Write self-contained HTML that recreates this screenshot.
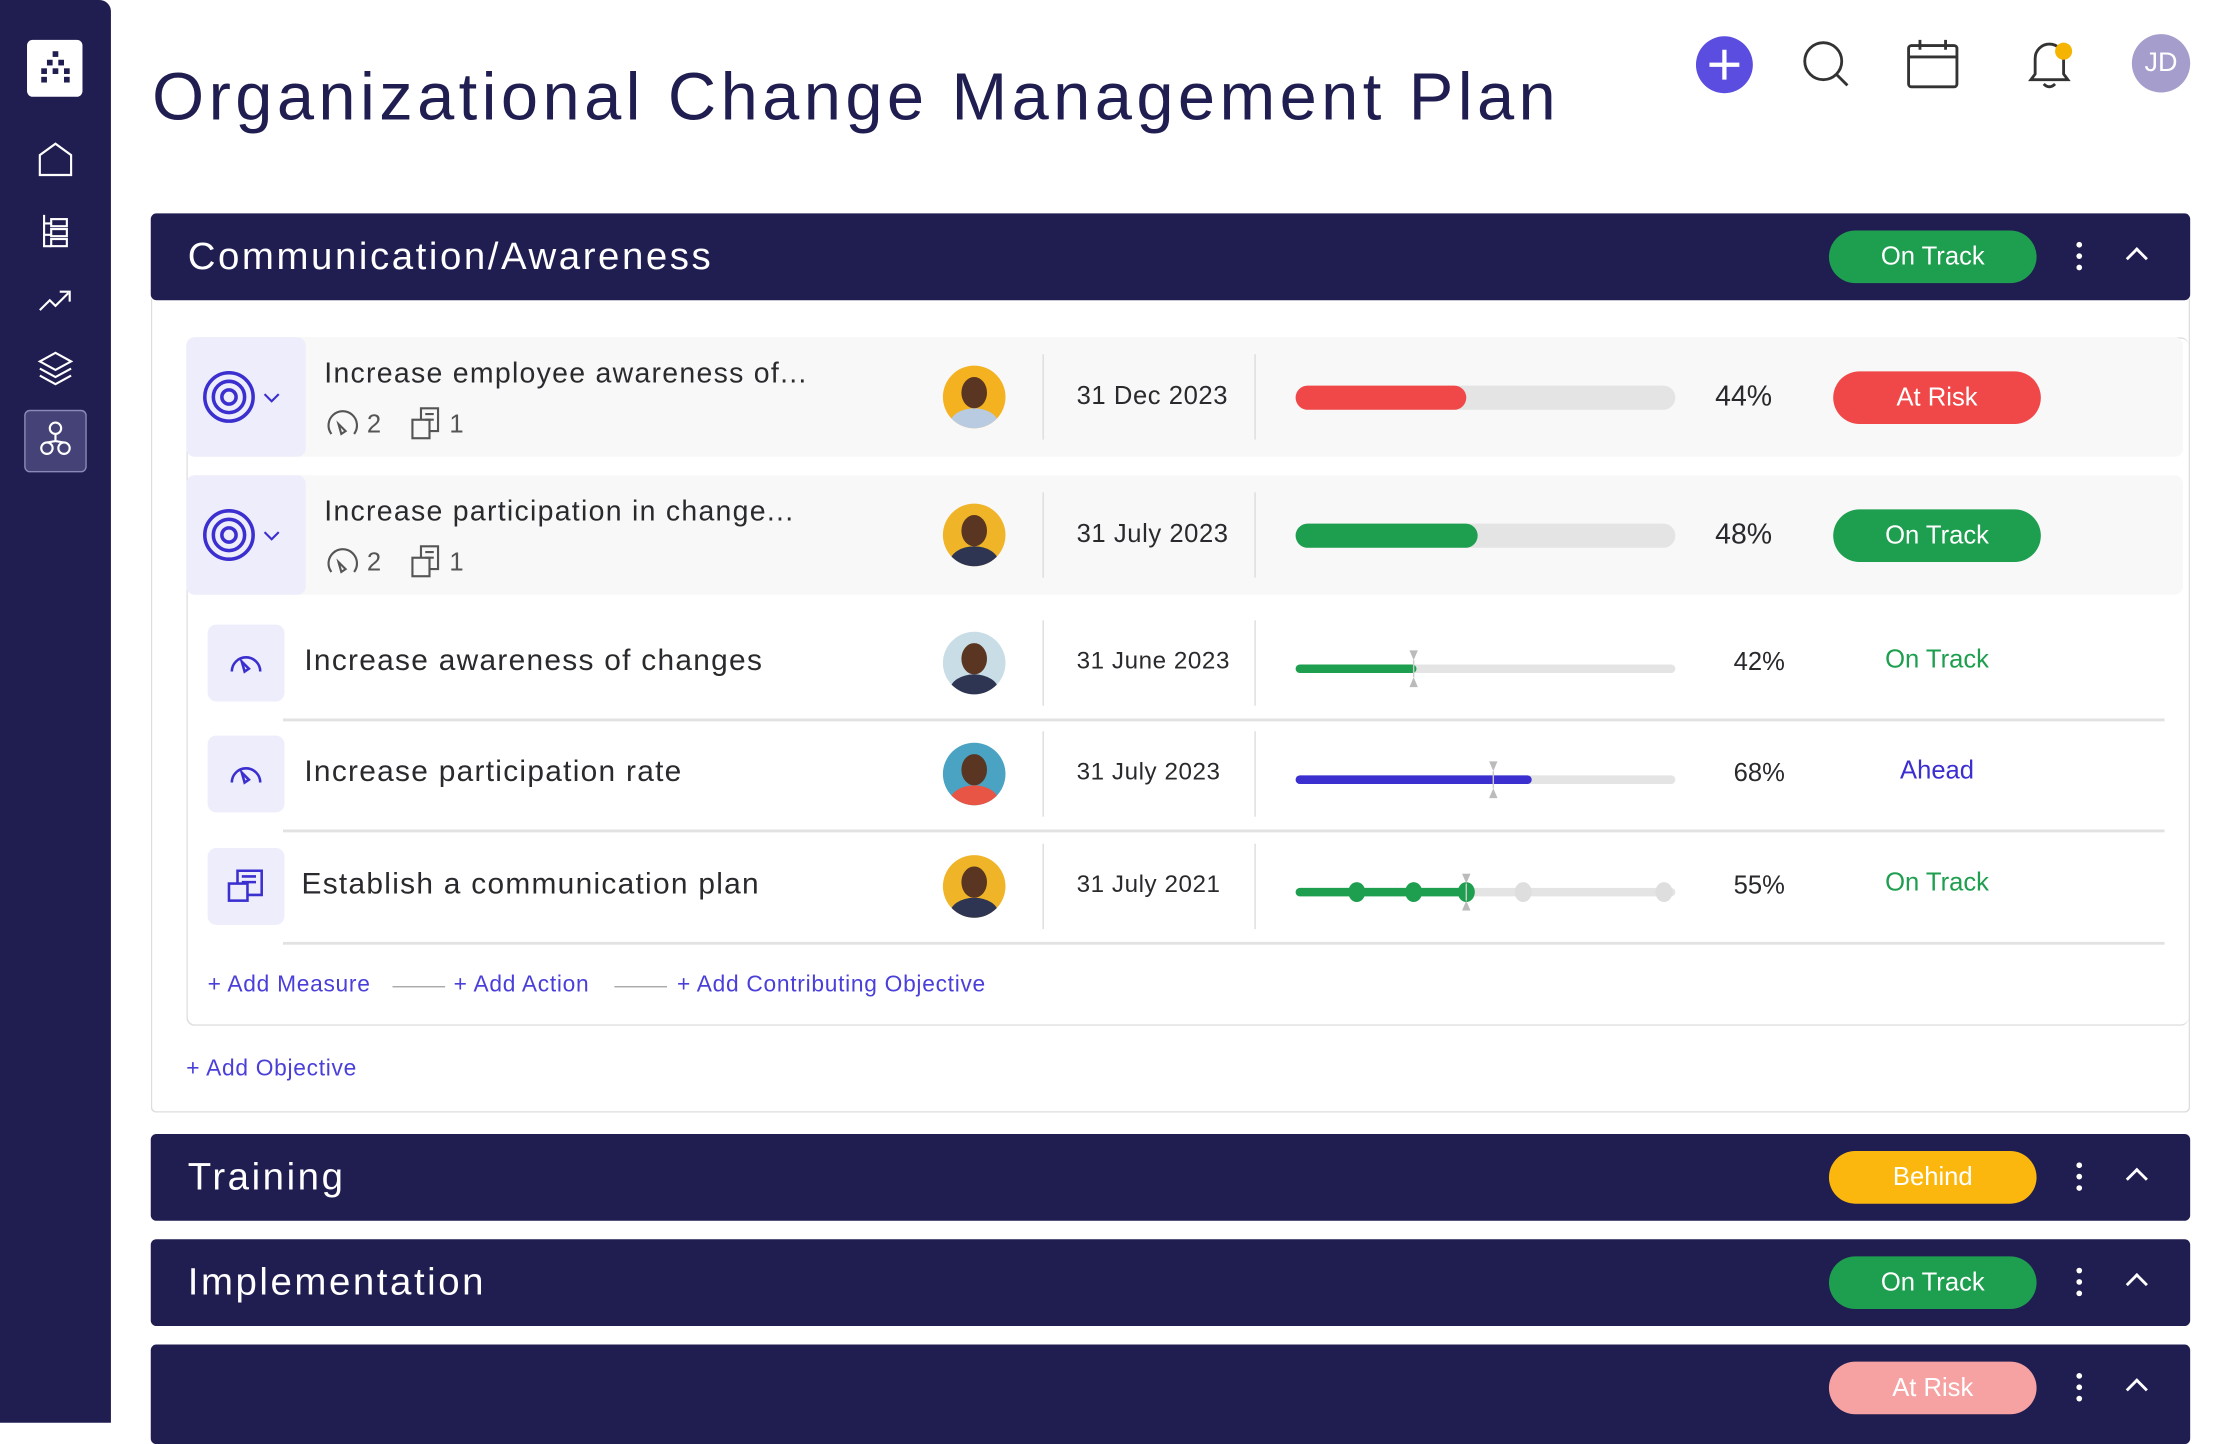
<!DOCTYPE html>
<html><head><meta charset="utf-8"><style>
html,body{margin:0;padding:0;width:2230px;height:1400px;overflow:hidden;background:#fff}
#root{position:absolute;left:0;top:0;width:1568px;height:984px;transform:scale(1.42219,1.4228);transform-origin:0 0;font-family:"Liberation Sans",sans-serif}
.abs{position:absolute}
.hdr{position:absolute;left:106px;width:1434px;height:61px;background:#201d50;border-radius:4px;color:#fff}
.hdr .t{position:absolute;left:26px;top:15px;font-size:27px;letter-spacing:1.8px}
.pill{position:absolute;left:1180px;top:12px;width:146px;height:37px;border-radius:19px;color:#fff;font-size:18px;text-align:center;line-height:37px}
.kebab{position:absolute;left:1354px;top:20px;width:4px}
.kebab i{display:block;width:4px;height:4px;border-radius:2px;background:#fff;margin-bottom:4px}
.chev{position:absolute;left:1391px;top:26px;width:9px;height:9px;border-left:2px solid #fff;border-top:2px solid #fff;transform:rotate(45deg)}
.link{position:absolute;color:#4a3fd8;font-size:16px;letter-spacing:0.5px}
</style></head><body><div id="root">
<div class="abs" style="left:0;top:0;width:78px;height:1000px;background:#201d50;border-radius:0 8px 0 0">
 <div class="abs" style="left:19px;top:28px;width:39px;height:40px;background:#fff;border-radius:4px">
  <svg width="39" height="40"><g fill="#201d50"><rect x="18" y="8" width="4" height="4"/><rect x="14" y="14" width="4" height="4"/><rect x="22" y="14" width="4" height="4"/><rect x="10" y="20" width="4" height="4"/><rect x="18" y="20" width="4" height="4"/><rect x="26" y="20" width="4" height="4"/><rect x="10" y="26" width="4" height="4"/><rect x="26" y="26" width="4" height="4"/></g></svg></div>
 <svg class="abs" style="left:26px;top:99px" width="26" height="26"><path d="M2 24V10L13 2L24 10V24Z" fill="none" stroke="#fff" stroke-width="1.5"/></svg>
 <svg class="abs" style="left:28px;top:150px" width="24" height="26"><g fill="none" stroke="#fff" stroke-width="1.5"><path d="M3 1V23H8M3 7H8M3 15H8"/><rect x="8" y="4" width="11" height="5"/><rect x="8" y="11" width="11" height="5"/><rect x="8" y="18" width="11" height="5"/></g></svg>
 <svg class="abs" style="left:26px;top:200px" width="26" height="22"><path d="M2 18L9 11L13 15L22 6M16 5H23V12" fill="none" stroke="#fff" stroke-width="1.5"/></svg>
 <svg class="abs" style="left:26px;top:246px" width="26" height="28"><g fill="none" stroke="#fff" stroke-width="1.5"><path d="M2 8L13 2L24 8L13 14Z"/><path d="M2 13L13 19L24 13"/><path d="M2 18L13 24L24 18"/></g></svg>
 <div class="abs" style="left:17px;top:288px;width:42px;height:42px;background:#454277;border:1px solid #8a88b6;border-radius:4px">
  <svg width="42" height="42"><g fill="none" stroke="#fff" stroke-width="1.5"><circle cx="21" cy="12" r="4"/><circle cx="15" cy="26" r="4"/><circle cx="27" cy="26" r="4"/><path d="M21 16V21L15 22M21 21L27 22"/></g></svg></div>
</div>
<div class="abs" style="left:107px;top:40px;font-size:47px;color:#201d50;letter-spacing:3.1px">Organizational Change Management Plan</div>
<svg class="abs" style="left:1192px;top:25px" width="41" height="41"><circle cx="20.5" cy="20.5" r="20" fill="#5a4de0"/><path d="M20.5 10V31M10 20.5H31" stroke="#fff" stroke-width="3"/></svg>
<svg class="abs" style="left:1266px;top:27px" width="36" height="36"><circle cx="16" cy="16" r="13" fill="none" stroke="#333" stroke-width="2"/><path d="M25 25L33 33" stroke="#333" stroke-width="2"/></svg>
<svg class="abs" style="left:1340px;top:26px" width="38" height="38"><g fill="none" stroke="#333" stroke-width="2"><rect x="2" y="6" width="34" height="29" rx="2"/><path d="M2 14H36M10 2V9M28 2V9"/></g></svg>
<svg class="abs" style="left:1424px;top:26px" width="38" height="38"><path d="M4 30H30L27 26V15A10 10 0 0 0 7 15V26Z M13 33Q17 37 21 33" fill="none" stroke="#333" stroke-width="2"/><circle cx="27" cy="10" r="6" fill="#f5b400"/></svg>
<div class="abs" style="left:1499px;top:24px;width:41px;height:41px;border-radius:50%;background:#a59dcb;color:#fff;font-size:19px;text-align:center;line-height:41px">JD</div>

<div class="hdr" style="top:150px"><div class="t">Communication/Awareness</div><div class="pill" style="background:#1e9e4f">On Track</div><div class="kebab"><i></i><i></i><i></i></div><div class="chev"></div></div>
<div class="abs" style="left:106px;top:210px;width:1432px;height:571px;border:1px solid #ddd;border-top:none;border-radius:0 0 4px 4px"></div>
<div class="abs" style="left:131px;top:237px;width:1407px;height:482px;border:1px solid #ddd;border-right:none;border-radius:6px"></div>

<div id="rows"></div>

<div class="link" style="left:146px;top:684px">+ Add Measure</div>
<div class="abs" style="left:276px;top:693px;width:37px;height:1px;background:#aaa"></div>
<div class="link" style="left:319px;top:684px">+ Add Action</div>
<div class="abs" style="left:432px;top:693px;width:37px;height:1px;background:#aaa"></div>
<div class="link" style="left:476px;top:684px">+ Add Contributing Objective</div>
<div class="link" style="left:131px;top:743px">+ Add Objective</div>

<div class="hdr" style="top:797px"><div class="t">Training</div><div class="pill" style="background:#fbb70e">Behind</div><div class="kebab"><i></i><i></i><i></i></div><div class="chev"></div></div>
<div class="hdr" style="top:871px"><div class="t">Implementation</div><div class="pill" style="background:#1e9e4f">On Track</div><div class="kebab"><i></i><i></i><i></i></div><div class="chev"></div></div>
<div class="hdr" style="top:945px;height:70px"><div class="pill" style="background:#f6a2a2">At Risk</div><div class="kebab"><i></i><i></i><i></i></div><div class="chev"></div></div>
</div>
<script>
const titles=["Increase employee awareness of...","Increase participation in change...","Increase awareness of changes","Increase participation rate","Establish a communication plan"];
const dates=["31 Dec 2023","31 July 2023","31 June 2023","31 July 2023","31 July 2021"];
const fills=[45,48,32,62,45];
const targets=[null,null,31,52,45];
const pctLabels=["44%","48%","42%","68%","55%"];
const statuses=["At Risk","On Track","On Track","Ahead","On Track"];
const milestones=[null,null,null,null,[16,31,45,60,97]];
const rowTops=[237,334,422,500,579];
const avatarBg=["#f4b120","#f0b429","#c9dde6","#4aa3c2","#f0b429"];
const statusColor={"At Risk":"#f04848","On Track":"#1e9e4f","Ahead":"#3b2fd0"};
const R=document.getElementById('rows');
const X0=911,W=267;
function xs(v){return X0+W*v/100;}
function mk(tag,css,parent){const e=document.createElement(tag);e.style.cssText=css;(parent||R).appendChild(e);return e;}
titles.forEach((t,i)=>{
 const top=rowTops[i], major=i<2;
 if(major){const bg=mk('div',`left:131px;top:${top}px;width:1404px;height:84px;background:#f8f8f9;position:absolute;border-radius:6px`);
  
  
  const ib=mk('div',`left:131px;top:${top}px;width:84px;height:84px;background:#eeedfb;position:absolute;border-radius:6px`);
  ib.innerHTML='<svg width="84" height="84"><g fill="none" stroke="#3b2fd0" stroke-width="2.5"><circle cx="30" cy="42" r="17"/><circle cx="30" cy="42" r="11"/><circle cx="30" cy="42" r="5"/><path d="M55 40L60 45L65 40" stroke-width="1.5"/></g></svg>';
  
  
  const tt=mk('div',`position:absolute;left:228px;top:${top+15}px;font-size:20px;color:#2a2a2e;letter-spacing:0.9px`);tt.textContent=t;
  
  
  const meta=mk('div',`position:absolute;left:228px;top:${top+48}px;font-size:18px;color:#555;display:flex;align-items:center`);
  meta.innerHTML='<svg width="26" height="22"><path d="M5 18A10 10 0 1 1 21 18M12 18L10 11L15 16Z" fill="none" stroke="#555" stroke-width="1.5"/></svg><span style="margin:0 20px 0 4px">2</span><svg width="26" height="26"><g fill="none" stroke="#555" stroke-width="1.5"><rect x="2" y="10" width="12" height="13"/><path d="M8 10V2H20V18H14M11 6H17M11 10H17"/></g></svg><span style="margin-left:2px">1</span>';
  
  
 } else {
  const ib=mk('div',`left:146px;top:${top+17}px;width:54px;height:54px;background:#eeedfb;position:absolute;border-radius:6px`);
  ib.innerHTML=i<4?'<svg width="54" height="54"><path d="M17 33A10 10 0 1 1 37 33M26 33L24 26L29 31Z" fill="none" stroke="#3b2fd0" stroke-width="1.8"/></svg>':'<svg width="54" height="54"><g fill="none" stroke="#3b2fd0" stroke-width="1.8"><rect x="15" y="25" width="13" height="12"/><path d="M21 25V16H38V33H28M24 20H34M24 24H34"/></g></svg>';
  
  
  const tt=mk('div',`position:absolute;left:${i==4?212:214}px;top:${top+31}px;font-size:21px;color:#2a2a2e;letter-spacing:0.9px`);tt.textContent=t;
  
  
  const ln=mk('div',`position:absolute;left:199px;top:${top+83}px;width:1323px;height:2px;background:#e2e2e2`);
  
  
 }
 const mid=major?top+42:top+44;
 const av=mk('div',`position:absolute;left:663px;top:${mid-22}px;width:44px;height:44px;border-radius:50%;overflow:hidden;background:${avatarBg[i]}`);
 av.innerHTML='<i style="position:absolute;left:13px;top:8px;width:18px;height:22px;border-radius:50%;background:#5a3522"></i><b style="position:absolute;left:5px;top:30px;width:34px;height:22px;border-radius:50%;background:'+(i==3?'#e85545':i==0?'#b9cbe0':'#2d3553')+'"></b>';
 
 
 [733,882].forEach(x=>{const v=mk('div',`position:absolute;left:${x}px;top:${mid-30}px;width:1px;height:60px;background:#ddd`);
  
  });
 const d=mk('div',`position:absolute;left:757px;top:${mid-11}px;font-size:${major?18:17}px;color:#2a2a2e;letter-spacing:0.4px`);d.textContent=dates[i];
 
 
 const bh=major?17:6, by=major?mid-bh/2:mid+1;
 const col=major?(statuses[i]=="At Risk"?"#f04848":"#1e9e4f"):(statuses[i]=="Ahead"?"#3b2fd0":"#1e9e4f");
 const tr=mk('div',`position:absolute;left:${X0}px;top:${by}px;width:${W}px;height:${bh}px;border-radius:${bh/2}px;background:#e4e4e4`);
 
 
 const fl=mk('div',`position:absolute;left:${X0}px;top:${by}px;width:${xs(fills[i])-X0}px;height:${bh}px;border-radius:${bh/2}px;background:${col}`);
 
 
 if(milestones[i]){milestones[i].forEach(m=>{const dot=mk('div',`position:absolute;left:${xs(m)-6}px;top:${by+3-7}px;width:12px;height:14px;border-radius:50%;background:${m<=fills[i]?col:'#dedede'}`);
  
  });}
 if(targets[i]!=null){const tg=mk('div',`position:absolute;left:${xs(targets[i])-3}px;top:${by-10}px;width:6px;height:26px;`);
  tg.innerHTML='<svg width="6" height="26"><path d="M0 0H6L3 7ZM0 26H6L3 19Z" fill="#bbb"/><path d="M3 7V19" stroke="#ccc"/></svg>';
  
  }
 const p=mk('div',`position:absolute;left:${major?1206:1219}px;top:${mid-11}px;font-size:${major?20:18}px;color:#2a2a2e`);p.textContent=pctLabels[i];
 
 
 let s;
 if(major){s=mk('div',`position:absolute;left:1289px;top:${mid-18}px;width:146px;height:37px;border-radius:19px;background:${statusColor[statuses[i]]};color:#fff;font-size:18px;text-align:center;line-height:37px`);}
 else{s=mk('div',`position:absolute;left:1289px;top:${mid-13}px;width:146px;text-align:center;font-size:18px;color:${statusColor[statuses[i]]}`);}
 s.textContent=statuses[i];
 
 
});
</script>
</body></html>
